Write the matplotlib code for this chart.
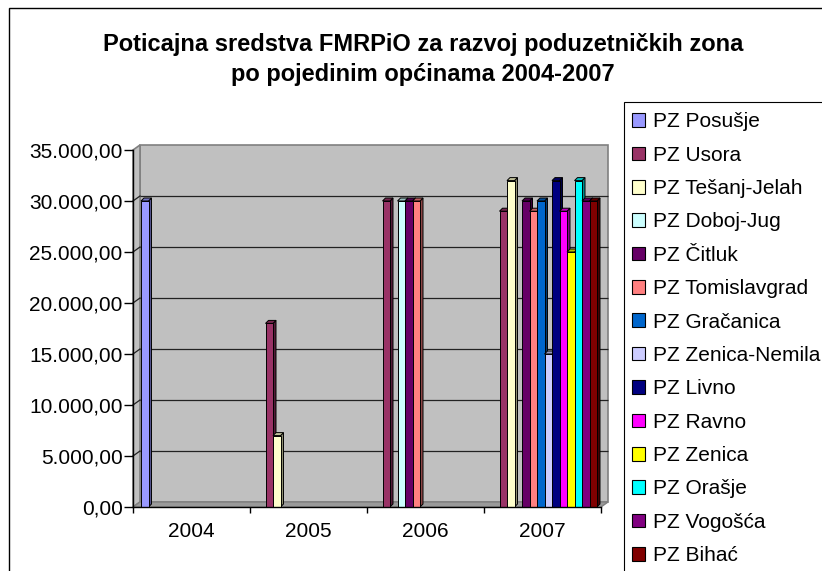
import matplotlib
matplotlib.use("Agg")
import matplotlib.pyplot as plt
import numpy as np
from matplotlib.patches import Polygon, Rectangle, Patch
from matplotlib.colors import to_rgb

plt.rcParams['font.family'] = ['Liberation Sans', 'DejaVu Sans']

# ---------------- data ----------------
years = ['2004', '2005', '2006', '2007']
series_names = ['PZ Posušje', 'PZ Usora', 'PZ Tešanj-Jelah', 'PZ Doboj-Jug', 'PZ Čitluk',
                'PZ Tomislavgrad', 'PZ Gračanica', 'PZ Zenica-Nemila', 'PZ Livno', 'PZ Ravno',
                'PZ Zenica', 'PZ Orašje', 'PZ Vogošća', 'PZ Bihać']
posusje       = [30000, 0, 0, 0]
usora         = [0, 18000, 30000, 29000]
tesanj_jelah  = [0, 7000, 0, 32000]
doboj_jug     = [0, 0, 30000, 0]
citluk        = [0, 0, 30000, 30000]
tomislavgrad  = [0, 0, 30000, 29000]
gracanica     = [0, 0, 0, 30000]
zenica_nemila = [0, 0, 0, 15000]
livno         = [0, 0, 0, 32000]
ravno         = [0, 0, 0, 29000]
zenica        = [0, 0, 0, 25000]
orasje        = [0, 0, 0, 32000]
vogosca       = [0, 0, 0, 30000]
bihac         = [0, 0, 0, 30000]
series_values = [posusje, usora, tesanj_jelah, doboj_jug, citluk, tomislavgrad, gracanica,
                 zenica_nemila, livno, ravno, zenica, orasje, vogosca, bihac]
colors = ['#9999FF', '#993366', '#FFFFCC', '#CCFFFF', '#660066', '#FF8080', '#0066CC',
          '#CCCCFF', '#000080', '#FF00FF', '#FFFF00', '#00FFFF', '#800080', '#800000']
yticks = [0, 5000, 10000, 15000, 20000, 25000, 30000, 35000]
title_line1 = 'Poticajna sredstva FMRPiO za razvoj poduzetničkih zona'
title_line2 = 'po pojedinim općinama 2004-2007'

# ---------------- figure ----------------
W, H = 822, 571
fig = plt.figure(figsize=(W / 100, H / 100), dpi=100)
fig.patch.set_facecolor('white')

# outer chart border (extends past the right/bottom edge)
fig.patches.append(Rectangle((9 / W, -0.2), 1.3, 1 - 8 / H + 0.2, transform=fig.transFigure,
                             fill=False, edgecolor='black', linewidth=1.0))

ax_l, ax_r, ax_t, ax_b = 133, 601, 150, 507
ax = fig.add_axes([ax_l / W, 1 - ax_b / H, (ax_r - ax_l) / W, (ax_b - ax_t) / H])
ax.set_xlim(-0.5, 3.5)
ax.set_ylim(0, 35000)
ax.set_facecolor('none')

px_x = 4.0 / (ax_r - ax_l)        # data units per pixel (x)
px_y = 35000.0 / (ax_b - ax_t)    # data units per pixel (y)
ddx, ddy = 7 * px_x, 5 * px_y     # wall depth
wall_edge = '#808080'

# back wall
ax.add_patch(Polygon([(-0.5 + ddx, ddy), (3.5 + ddx, ddy), (3.5 + ddx, 35000 + ddy),
                      (-0.5 + ddx, 35000 + ddy)], closed=True, facecolor='#C0C0C0',
                     edgecolor=wall_edge, linewidth=1.2, zorder=0.5, clip_on=False))
# side wall
ax.add_patch(Polygon([(-0.5, 0), (-0.5, 35000), (-0.5 + ddx, 35000 + ddy), (-0.5 + ddx, ddy)],
                     closed=True, facecolor='#C0C0C0', edgecolor=wall_edge, linewidth=1.2,
                     zorder=0.6, clip_on=False))
# floor
ax.add_patch(Polygon([(-0.5, 0), (3.5, 0), (3.5 + ddx, ddy), (-0.5 + ddx, ddy)],
                     closed=True, facecolor='#9a9a9a', edgecolor=wall_edge, linewidth=1.0,
                     zorder=0.6, clip_on=False))
# gridlines on walls
for v in yticks[1:-1]:
    ax.plot([-0.5 + ddx, 3.5 + ddx], [v + ddy, v + ddy], color='#222222', lw=0.9,
            zorder=0.8, clip_on=False, solid_capstyle='butt')
    ax.plot([-0.5, -0.5 + ddx], [v, v + ddy], color='#222222', lw=0.9, zorder=0.8,
            clip_on=False)

# bars
n = len(series_names)
slot = 7.5 * px_x
start = 8 * px_x
bdx, bdy = 3 * px_x, 3 * px_y
cat_x = np.arange(len(years))


def shade(c, f):
    r, g, b = to_rgb(c)
    return (r * f, g * f, b * f)


for j, (vals, col) in enumerate(zip(series_values, colors)):
    vals = np.array(vals, dtype=float)
    lefts = cat_x - 0.5 + start + j * slot
    mask = vals > 0
    z = 2 + j * 0.01
    for x0, v in zip(lefts[mask], vals[mask]):
        x1 = x0 + slot
        ax.add_patch(Polygon([(x1, 0), (x1 + bdx, bdy), (x1 + bdx, v + bdy), (x1, v)],
                             closed=True, facecolor=shade(col, 0.55), edgecolor='black',
                             linewidth=0.7, zorder=z, clip_on=False))
        ax.add_patch(Polygon([(x0, v), (x1, v), (x1 + bdx, v + bdy), (x0 + bdx, v + bdy)],
                             closed=True, facecolor=shade(col, 0.75), edgecolor='black',
                             linewidth=0.7, zorder=z, clip_on=False))
    ax.bar(lefts[mask], vals[mask], width=slot, align='edge', color=col, edgecolor='black',
           linewidth=0.7, zorder=z + 0.001, label=series_names[j])

# axes styling
for s in ['top', 'right']:
    ax.spines[s].set_visible(False)
ax.spines['left'].set_linewidth(1.0)
ax.spines['bottom'].set_linewidth(1.0)
ax.spines['left'].set_zorder(5)
ax.spines['bottom'].set_zorder(5)

ax.set_yticks(yticks)


def fmt(v):
    s = f"{v:,.2f}"
    return s.replace(',', 'X').replace('.', ',').replace('X', '.')


ax.set_yticklabels([fmt(v) for v in yticks], fontsize=15)
ax.tick_params(axis='y', direction='out', length=6.5, width=1, pad=1)
ax.set_xticks([-0.5, 0.5, 1.5, 2.5, 3.5])
ax.set_xticklabels([])
ax.set_xticks(cat_x, minor=True)
ax.set_xticklabels(years, minor=True, fontsize=15)
ax.tick_params(axis='x', which='major', direction='out', length=4.5, width=1)
ax.tick_params(axis='x', which='minor', length=0, pad=10.5)

# title
fig.text(423 / W, 1 - 51 / H, title_line1, ha='center', va='baseline', fontsize=17,
         fontweight='bold')
fig.text(423 / W, 1 - 81 / H, title_line2, ha='center', va='baseline', fontsize=17,
         fontweight='bold')

# legend (frame drawn separately, it runs past the figure edge)
fig.patches.append(Rectangle((624 / W, -0.2), 1.0, 1 - 102 / H + 0.2,
                             transform=fig.transFigure, fill=False, edgecolor='black',
                             linewidth=0.8))
handles = [Patch(facecolor=c, edgecolor='black', linewidth=0.8) for c in colors]
leg = fig.legend(handles, series_names, loc='upper left',
                 bbox_to_anchor=(624 / W, 1 - 104 / H), bbox_transform=fig.transFigure,
                 fontsize=15, frameon=False, borderaxespad=0, borderpad=0.4,
                 handlelength=0.63, handleheight=0.63, handletextpad=0.35,
                 labelspacing=0.69)

fig.savefig('out.png', dpi=100)
